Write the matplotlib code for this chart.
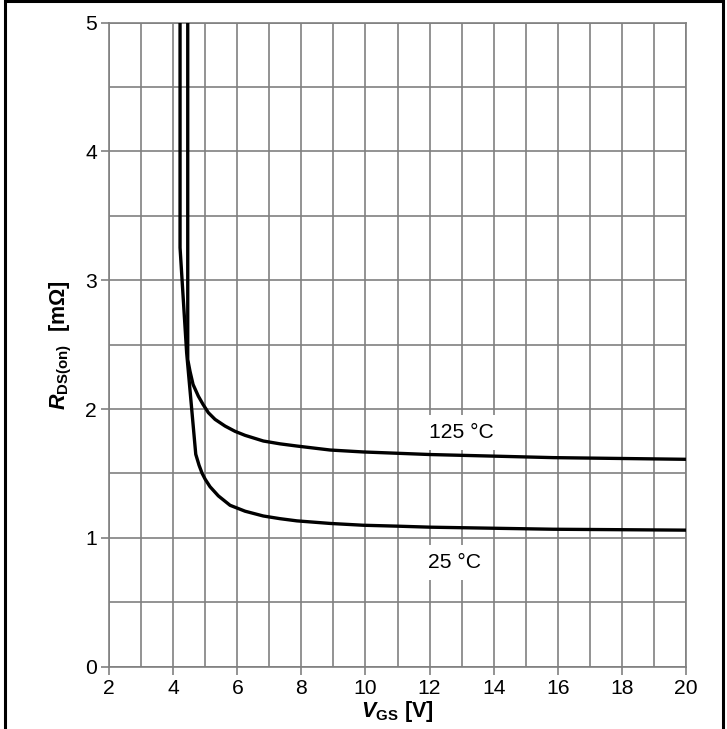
import matplotlib
matplotlib.use("Agg")
import matplotlib.pyplot as plt
from matplotlib.patches import Rectangle
from matplotlib.ticker import MultipleLocator

plt.rcParams['font.family'] = ['Liberation Sans', 'DejaVu Sans']
plt.rcParams['mathtext.fontset'] = 'custom'
plt.rcParams['mathtext.rm'] = 'Liberation Sans'
plt.rcParams['mathtext.it'] = 'Liberation Sans:italic:bold'
plt.rcParams['mathtext.bf'] = 'Liberation Sans:bold'

# Data
vgs_125 = [4.455, 4.455, 4.527, 4.621, 4.786, 4.933, 5.098, 5.307, 5.62, 5.932, 6.244,
           6.814, 7.335, 7.86, 8.90, 9.93, 10.98, 12.02, 15.86, 20.0]
rds_125 = [6.0, 2.385, 2.292, 2.191, 2.10, 2.036, 1.972, 1.920, 1.868, 1.827, 1.796,
           1.752, 1.730, 1.713, 1.682, 1.667, 1.657, 1.647, 1.623, 1.61]

vgs_25 = [4.215, 4.215, 4.42, 4.705, 4.808, 4.902, 5.0, 5.151, 5.41, 5.775, 6.244,
          6.81, 7.335, 7.86, 8.90, 9.93, 10.98, 12.02, 15.86, 20.0]
rds_25 = [6.0, 3.253, 2.44, 1.649, 1.564, 1.502, 1.455, 1.397, 1.326, 1.253, 1.207,
          1.17, 1.149, 1.132, 1.112, 1.098, 1.091, 1.083, 1.067, 1.06]

x_ticks = [2, 4, 6, 8, 10, 12, 14, 16, 18, 20]
y_ticks = [0, 1, 2, 3, 4, 5]
label_125 = "125 °C"
label_25 = "25 °C"

fig = plt.figure(figsize=(7.27, 7.29), dpi=100)
ax = fig.add_axes([0.15, 0.0855, 0.7936, 0.8834])

grid_color = '#808080'
ax.set_xlim(2, 20)
ax.set_ylim(0, 5)
ax.xaxis.set_minor_locator(MultipleLocator(1))
ax.yaxis.set_minor_locator(MultipleLocator(0.5))
ax.set_xticks(x_ticks)
ax.set_yticks(y_ticks)
ax.grid(which='both', color=grid_color, linewidth=1.2)
ax.set_axisbelow(True)
for s in ax.spines.values():
    s.set_color(grid_color)
    s.set_linewidth(1.2)
ax.tick_params(which='major', direction='out', length=5.8, width=1.2, color=grid_color,
               labelsize=15.2, labelcolor='black', pad=3)
ax.tick_params(which='minor', length=0)

ax.plot(vgs_25, rds_25, color='black', linewidth=2.4, solid_joinstyle='round', zorder=3)
ax.plot(vgs_125, rds_125, color='black', linewidth=2.4, solid_joinstyle='round', zorder=3)

bbox = dict(facecolor='white', edgecolor='none', pad=6)
ax.text(12.98, 1.82, label_125, fontsize=15.2, ha='center', va='center', bbox=bbox, zorder=4)
ax.text(12.78, 0.81, label_25, fontsize=15.2, ha='center', va='center', bbox=bbox, zorder=4)

ax.set_xlabel(r'$\mathit{V}_{\mathbf{GS}}\ \mathbf{[V]}$', fontsize=15.5, labelpad=1)
ax.set_ylabel(r'$\mathit{R}_{\mathbf{DS(on)}}\ \ \mathbf{[m\Omega]}$', fontsize=15.5, labelpad=8)

fig.patches.append(Rectangle((5 / 727, -0.01), 718 / 727, 1.01 - 1.5 / 729,
                             transform=fig.transFigure, fill=False,
                             edgecolor='black', linewidth=2.2, figure=fig))

fig.savefig('out.png', dpi=100)
